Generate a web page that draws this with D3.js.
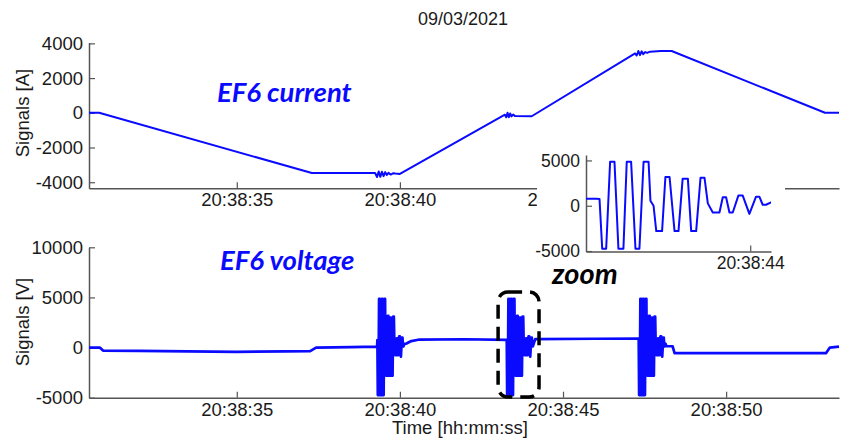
<!DOCTYPE html>
<html>
<head>
<meta charset="utf-8">
<script src="https://cdn.jsdelivr.net/npm/d3@7"></script>
<style>
body { margin: 0; background: #fff; }
svg text { font-family: "Liberation Sans", Arial, sans-serif; }
.note { font-family: Lato, "Open Sans", sans-serif; font-weight: bold; font-style: italic; }
</style>
</head>
<body>
<svg id="chart" width="843" height="440"></svg>
<script>
// times are seconds after 20:38:00
var timeTicks = [35, 40, 45, 50];
var zoomTicks = [44];
var currentTicks = [-4000, -2000, 0, 2000, 4000];
var voltageTicks = [-5000, 0, 5000, 10000];
var zoomValueTicks = [-5000, 0, 5000];

var currentTimes = [30.47, 30.78, 37.30, 39.24, 39.30, 39.35, 39.40, 39.45, 39.50, 39.55, 39.60, 39.65, 39.72, 39.80, 39.86, 40.00,
    43.22, 43.26, 43.30, 43.34, 43.38, 43.42, 43.47, 43.53, 44.04,
    47.21, 47.26, 47.31, 47.36, 47.41, 47.46, 47.52, 47.58, 47.67, 48.00, 48.33, 53.03, 53.46];
var currentValues = [0, 0, -3470, -3470, -3700, -3380, -3690, -3400, -3650, -3420, -3580, -3460, -3560, -3480, -3500, -3520,
    -110, -260, 0, -250, -40, -210, -100, -190, -200,
    3420, 3300, 3560, 3320, 3540, 3380, 3500, 3450, 3520, 3560, 3560, 0, 0];

// voltage between the switching bursts
var baseTimes = [30.47, 30.80, 30.90, 32.00, 33.50, 35.00, 36.50, 37.25, 37.43, 38.50, 39.30,
    40.20, 40.35, 40.60, 42.00, 43.26,
    44.15, 46.00, 47.31,
    48.17, 48.36, 48.42, 50.00, 53.06, 53.18, 53.46];
var baseValues = [0, 0, -300, -330, -380, -420, -380, -350, 0, 50, 100,
    400, 650, 800, 830, 760,
    850, 880, 900,
    130, 130, -550, -560, -560, 0, 100];

// one burst (seconds after burst start)
var burstOffsets = [0, 0.013, 0.032, 0.051, 0.072, 0.091, 0.115, 0.131, 0.152, 0.173, 0.192, 0.212, 0.236, 0.245, 0.260,
    0.273, 0.301, 0.317, 0.337, 0.361, 0.380, 0.400, 0.425, 0.441, 0.465, 0.486, 0.505, 0.521,
    0.545, 0.577, 0.593, 0.609, 0.625, 0.641, 0.668, 0.689, 0.721, 0.753, 0.769, 0.785, 0.801, 0.825];
var burstValues = [750, -4740, -4740, 4850, 4850, -4740, -4740, 4850, 4850, -4740, -4740, 4850, 4850, 560, 0,
    -2800, -2800, 3170, 3170, -2800, -2800, 2990, 2990, -2800, -2800, 3100, 3100, 260,
    -750, -750, 930, 930, -750, -750, 1120, 1120, -900, 1000, 1000, 110, 110, 370];
var burstStarts = [39.31, 43.275, 47.32];

var blue = "#0a0aff";
var axisColor = "#555";

var svg = d3.select("#chart");

var x = d3.scaleLinear().domain([30.47, 53.46]).range([89, 839]);
var yTop = d3.scaleLinear().domain([-4350, 4050]).range([188.3, 42.5]);
var yBottom = d3.scaleLinear().domain([-5000, 10000]).range([397.7, 247.3]);
var xZoom = d3.scaleLinear().domain([43.21, 44.10]).range([586, 771]);
var yZoom = d3.scaleLinear().domain([-5050, 5600]).range([251.5, 155]);

function timeLabel(t) {
    return "20:38:" + d3.format("02d")(t);
}

function valueLabel(v) {
    return String(v);
}

var current = currentTimes.map(function(t, i) { return {t: t, v: currentValues[i]}; });

var voltage = baseTimes.map(function(t, i) { return {t: t, v: baseValues[i]}; });
burstStarts.forEach(function(start) {
    burstOffsets.forEach(function(dt, i) {
        voltage.push({t: start + dt, v: burstValues[i]});
    });
});
voltage.sort(function(a, b) { return a.t - b.t; });

function drawAxes(xs, ys, xTicks, yTicks, labelSize) {
    var xAxis = svg.append("g")
        .attr("transform", "translate(0," + ys.range()[0] + ")")
        .call(d3.axisBottom(xs).tickValues(xTicks).tickFormat(timeLabel)
            .tickSizeInner(-6).tickSizeOuter(0).tickPadding(5));
    var yAxis = svg.append("g")
        .attr("transform", "translate(" + xs.range()[0] + ",0)")
        .call(d3.axisLeft(ys).tickValues(yTicks).tickFormat(valueLabel)
            .tickSizeInner(-6).tickSizeOuter(0).tickPadding(6));
    [xAxis, yAxis].forEach(function(ax) {
        ax.select(".domain").attr("stroke", axisColor).attr("stroke-width", 1.5);
        ax.selectAll(".tick line").attr("stroke", axisColor).attr("stroke-width", 1.2);
        ax.selectAll(".tick text").attr("fill", "#1a1a1a")
            .style("font-size", labelSize + "px")
            .style("font-family", "'Liberation Sans', Arial, sans-serif");
    });
}

function drawLine(data, xs, ys, width, clip) {
    var line = d3.line()
        .x(function(d) { return xs(d.t); })
        .y(function(d) { return ys(d.v); });
    var path = svg.append("path")
        .datum(data)
        .attr("d", line)
        .attr("fill", "none")
        .attr("stroke", blue)
        .attr("stroke-width", width)
        .attr("stroke-linejoin", "round");
    if (clip) path.attr("clip-path", "url(#" + clip + ")");
}

// top panel: current
drawAxes(x, yTop, timeTicks, currentTicks, 18.5);
drawLine(current, x, yTop, 2);

// bottom panel: voltage
drawAxes(x, yBottom, timeTicks, voltageTicks, 18.5);
drawLine(voltage, x, yBottom, 2.7);

// zoom panel
svg.append("rect")
    .attr("x", 537).attr("y", 148)
    .attr("width", 248).attr("height", 126)
    .attr("fill", "#fff");

svg.append("clipPath").attr("id", "zoomClip")
    .append("rect")
    .attr("x", xZoom.range()[0]).attr("y", yZoom.range()[1])
    .attr("width", xZoom.range()[1] - xZoom.range()[0])
    .attr("height", yZoom.range()[0] - yZoom.range()[1]);

drawAxes(xZoom, yZoom, zoomTicks, zoomValueTicks, 17.5);
drawLine(voltage, xZoom, yZoom, 2, "zoomClip");

// dashed box round the zoomed burst
svg.append("rect")
    .attr("x", x(43.01)).attr("y", yBottom(5550))
    .attr("width", x(44.265) - x(43.01))
    .attr("height", yBottom(-4930) - yBottom(5550))
    .attr("rx", 10)
    .attr("fill", "none")
    .attr("stroke", "#000")
    .attr("stroke-width", 3.5)
    .attr("stroke-dasharray", "14,8");

// titles and labels
svg.append("text")
    .attr("x", 463).attr("y", 25)
    .attr("text-anchor", "middle")
    .style("font-size", "18px")
    .attr("fill", "#1a1a1a")
    .text("09/03/2021");

svg.append("text")
    .attr("transform", "translate(29,113) rotate(-90)")
    .attr("text-anchor", "middle")
    .style("font-size", "18.5px")
    .attr("fill", "#1a1a1a")
    .text("Signals [A]");

svg.append("text")
    .attr("transform", "translate(29,322) rotate(-90)")
    .attr("text-anchor", "middle")
    .style("font-size", "18.5px")
    .attr("fill", "#1a1a1a")
    .text("Signals [V]");

svg.append("text")
    .attr("x", 460).attr("y", 434)
    .attr("text-anchor", "middle")
    .style("font-size", "18.5px")
    .attr("fill", "#1a1a1a")
    .text("Time [hh:mm:ss]");

svg.append("text")
    .attr("class", "note")
    .attr("x", 217).attr("y", 102)
    .style("font-size", "27.5px")
    .attr("fill", blue)
    .text("EF6 current");

svg.append("text")
    .attr("class", "note")
    .attr("x", 220).attr("y", 270)
    .style("font-size", "27.5px")
    .attr("fill", blue)
    .text("EF6 voltage");

svg.append("text")
    .attr("class", "note")
    .attr("x", 552).attr("y", 284)
    .style("font-size", "29px")
    .attr("fill", "#000")
    .text("zoom");
</script>
</body>
</html>
